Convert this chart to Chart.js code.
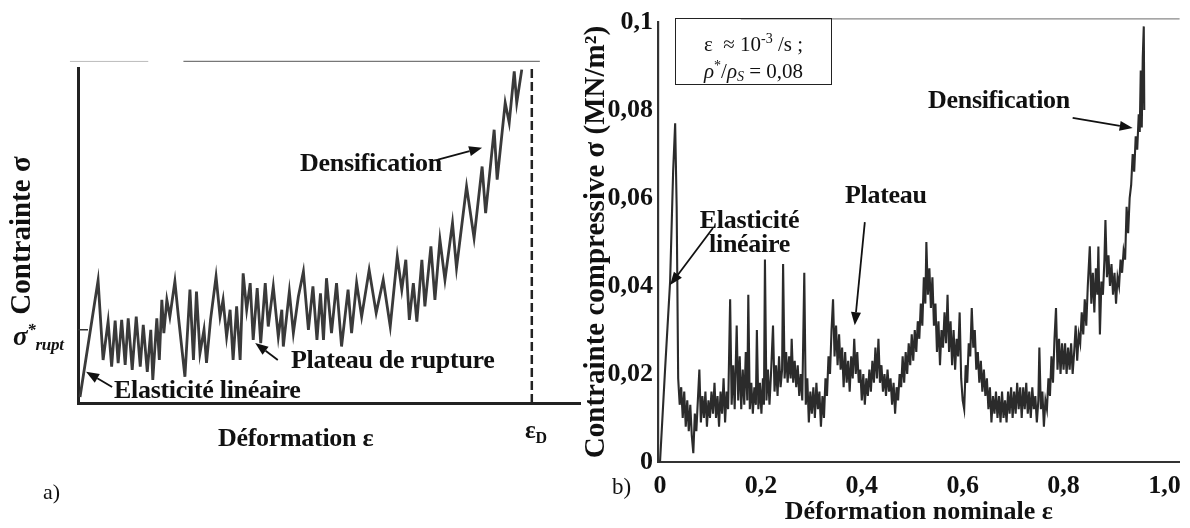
<!DOCTYPE html>
<html>
<head>
<meta charset="utf-8">
<script src="https://cdn.jsdelivr.net/npm/chart.js@4.4.0/dist/chart.umd.min.js"></script>
<style>
  html, body { margin: 0; padding: 0; background: #fff; }
  #wrap { position: relative; width: 1190px; height: 528px; overflow: hidden; font-family: "Liberation Serif", "Times New Roman", serif; color: #111; }
  .box { position: absolute; }
  .lbl { position: absolute; font-weight: bold; font-size: 26px; line-height: 24px; white-space: nowrap; letter-spacing: -0.3px; }
  .plain { position: absolute; font-size: 22px; line-height: 22px; white-space: nowrap; }
  .note { position: absolute; left: 675px; top: 18px; width: 157px; height: 67px; border: 1.5px solid #222; box-sizing: border-box; font-size: 21px; }
  .note div { position: absolute; left: 0; width: 100%; text-align: center; line-height: 22px; white-space: nowrap; }
</style>
</head>
<body>
<div id="wrap">
  <div class="box" style="left:0;top:0;width:590px;height:528px"><canvas id="chartA"></canvas></div>
  <div class="box" style="left:575px;top:0;width:615px;height:528px"><canvas id="chartB"></canvas></div>

  <!-- panel a) labels -->
  <div class="lbl" style="left:300px;top:151px">Densification</div>
  <div class="lbl" style="left:291px;top:348px">Plateau de rupture</div>
  <div class="lbl" style="left:114px;top:378px">Elasticité linéaire</div>
  <div class="lbl" style="left:218px;top:426px">Déformation ε</div>
  <div class="lbl" style="left:13px;top:318px;font-style:italic;font-size:27px">σ<sup style="font-size:17px;vertical-align:10px">*</sup><sub style="font-size:17px;vertical-align:-5px">rupt</sub></div>
  <div class="lbl" style="left:525px;top:418px;font-size:25px">ε<sub style="font-size:16px;vertical-align:-5px">D</sub></div>
  <div class="plain" style="left:43px;top:481px">a)</div>

  <!-- panel b) labels -->
  <div class="lbl" style="left:928px;top:88px">Densification</div>
  <div class="lbl" style="left:845px;top:183px">Plateau</div>
  <div class="lbl" style="left:692px;top:208px;text-align:center;width:115px">Elasticité<br>linéaire</div>
  <div class="note">
    <div style="top:9px">ε &nbsp;≈ 10<sup style="font-size:14px;vertical-align:8px">-3</sup> /s ;</div>
    <div style="top:36px"><i>ρ</i><sup style="font-size:14px;vertical-align:8px">*</sup>/<i>ρ<sub style="font-size:14px;vertical-align:-3px">S</sub></i> = 0,08</div>
  </div>
  <div class="plain" style="left:612px;top:476px;font-size:23px">b)</div>
</div>

<script>
// ---- panel a) : schematic curve (normalised units) ----
const epsA = [0.004, 0.040, 0.050, 0.060, 0.067, 0.074, 0.080, 0.087, 0.094, 0.100,
  0.108, 0.116, 0.124, 0.130, 0.138, 0.145, 0.149, 0.157, 0.162, 0.167,
  0.171, 0.177, 0.183, 0.193, 0.200, 0.213, 0.223, 0.230, 0.236, 0.243,
  0.251, 0.256, 0.264, 0.275, 0.283, 0.289, 0.296, 0.303, 0.309, 0.316,
  0.323, 0.329, 0.336, 0.343, 0.349, 0.357, 0.364, 0.373, 0.379, 0.389,
  0.399, 0.406, 0.409, 0.421, 0.429, 0.439, 0.449, 0.459, 0.468, 0.476,
  0.483, 0.489, 0.495, 0.505, 0.515, 0.525, 0.538, 0.545, 0.555, 0.565,
  0.580, 0.594, 0.608, 0.622, 0.636, 0.645, 0.653, 0.660, 0.668, 0.675,
  0.685, 0.691, 0.703, 0.711, 0.721, 0.731, 0.746, 0.754, 0.774, 0.789,
  0.805, 0.812, 0.829, 0.835, 0.851, 0.859, 0.869, 0.874, 0.884];
const sigA = [0.018, 0.373, 0.131, 0.248, 0.111, 0.251, 0.121, 0.253, 0.116, 0.258,
  0.101, 0.263, 0.111, 0.238, 0.095, 0.223, 0.070, 0.258, 0.131, 0.314,
  0.213, 0.314, 0.263, 0.370, 0.263, 0.080, 0.345, 0.131, 0.339, 0.152,
  0.223, 0.122, 0.253, 0.385, 0.263, 0.314, 0.202, 0.284, 0.131, 0.294,
  0.131, 0.395, 0.284, 0.365, 0.192, 0.350, 0.182, 0.365, 0.233, 0.355,
  0.202, 0.284, 0.172, 0.339, 0.213, 0.324, 0.400, 0.223, 0.355, 0.192,
  0.334, 0.192, 0.380, 0.213, 0.365, 0.172, 0.345, 0.213, 0.366, 0.263,
  0.405, 0.274, 0.375, 0.233, 0.446, 0.345, 0.436, 0.253, 0.365, 0.248,
  0.436, 0.294, 0.477, 0.314, 0.497, 0.375, 0.548, 0.411, 0.659, 0.502,
  0.720, 0.578, 0.832, 0.680, 0.914, 0.853, 1.010, 0.914, 1.015];
const epsD = 0.904;      // densification strain (dashed line)
const sigRupt = 0.223;   // plateau stress tick

// ---- panel b) : measured curve ----
const epsB = [
  0.000, 0.010, 0.020, 0.026, 0.030, 0.033, 0.036, 0.039, 0.042, 0.045,
  0.048, 0.051, 0.054, 0.057, 0.060, 0.063, 0.066, 0.069, 0.072, 0.075,
  0.078, 0.081, 0.084, 0.087, 0.090, 0.093, 0.096, 0.099, 0.102, 0.105,
  0.108, 0.111, 0.114, 0.117, 0.120, 0.123, 0.126, 0.129, 0.132, 0.135,
  0.139, 0.142, 0.145, 0.148, 0.152, 0.155, 0.158, 0.161, 0.164, 0.167,
  0.170, 0.173, 0.175, 0.178, 0.181, 0.184, 0.187, 0.190, 0.192, 0.195,
  0.198, 0.201, 0.204, 0.206, 0.208, 0.211, 0.214, 0.217, 0.220, 0.224,
  0.227, 0.230, 0.233, 0.236, 0.239, 0.242, 0.244, 0.247, 0.250, 0.253,
  0.256, 0.259, 0.261, 0.264, 0.267, 0.270, 0.273, 0.276, 0.279, 0.282,
  0.286, 0.289, 0.292, 0.295, 0.298, 0.301, 0.304, 0.307, 0.310, 0.313,
  0.316, 0.319, 0.322, 0.325, 0.328, 0.331, 0.334, 0.337, 0.340, 0.343,
  0.346, 0.349, 0.352, 0.355, 0.358, 0.361, 0.364, 0.367, 0.370, 0.373,
  0.376, 0.379, 0.382, 0.385, 0.388, 0.391, 0.394, 0.397, 0.400, 0.403,
  0.406, 0.409, 0.412, 0.415, 0.418, 0.421, 0.424, 0.427, 0.430, 0.433,
  0.436, 0.439, 0.442, 0.445, 0.448, 0.451, 0.454, 0.457, 0.460, 0.463,
  0.466, 0.469, 0.472, 0.475, 0.478, 0.481, 0.484, 0.487, 0.490, 0.493,
  0.496, 0.499, 0.502, 0.505, 0.508, 0.511, 0.514, 0.517, 0.520, 0.523,
  0.526, 0.528, 0.531, 0.534, 0.537, 0.540, 0.543, 0.546, 0.549, 0.552,
  0.555, 0.558, 0.561, 0.564, 0.567, 0.570, 0.573, 0.576, 0.579, 0.582,
  0.585, 0.588, 0.591, 0.594, 0.597, 0.600, 0.603, 0.606, 0.609, 0.612,
  0.615, 0.618, 0.621, 0.624, 0.627, 0.630, 0.633, 0.636, 0.639, 0.642,
  0.645, 0.648, 0.651, 0.654, 0.657, 0.660, 0.663, 0.666, 0.669, 0.672,
  0.675, 0.678, 0.681, 0.684, 0.687, 0.690, 0.693, 0.696, 0.699, 0.702,
  0.705, 0.708, 0.711, 0.714, 0.717, 0.720, 0.723, 0.726, 0.729, 0.732,
  0.735, 0.738, 0.741, 0.744, 0.747, 0.750, 0.752, 0.755, 0.758, 0.761,
  0.764, 0.767, 0.770, 0.773, 0.776, 0.779, 0.782, 0.785, 0.788, 0.791,
  0.794, 0.797, 0.800, 0.803, 0.806, 0.809, 0.812, 0.815, 0.818, 0.821,
  0.824, 0.827, 0.830, 0.833, 0.836, 0.839, 0.842, 0.845, 0.848, 0.852,
  0.855, 0.858, 0.861, 0.864, 0.867, 0.869, 0.872, 0.875, 0.878, 0.881,
  0.883, 0.886, 0.889, 0.892, 0.895, 0.898, 0.901, 0.904, 0.907, 0.910,
  0.913, 0.916, 0.919, 0.922, 0.925, 0.928, 0.931, 0.934, 0.937, 0.940,
  0.943, 0.946, 0.949, 0.951, 0.953, 0.955, 0.957, 0.959, 0.960];
const sigB = [
  0.000, 0.021, 0.041, 0.066, 0.077, 0.058, 0.019, 0.013, 0.017, 0.010,
  0.016, 0.008, 0.014, 0.007, 0.013, 0.006, 0.002, 0.011, 0.007, 0.014,
  0.021, 0.009, 0.015, 0.010, 0.016, 0.008, 0.014, 0.010, 0.016, 0.011,
  0.018, 0.010, 0.015, 0.008, 0.016, 0.011, 0.019, 0.009, 0.016, 0.012,
  0.037, 0.013, 0.022, 0.012, 0.031, 0.014, 0.024, 0.012, 0.021, 0.013,
  0.025, 0.014, 0.038, 0.012, 0.018, 0.011, 0.017, 0.013, 0.030, 0.012,
  0.018, 0.011, 0.019, 0.013, 0.046, 0.014, 0.021, 0.013, 0.020, 0.031,
  0.016, 0.022, 0.015, 0.024, 0.017, 0.021, 0.045, 0.019, 0.025, 0.018,
  0.024, 0.019, 0.028, 0.018, 0.023, 0.017, 0.022, 0.015, 0.020, 0.014,
  0.043, 0.013, 0.019, 0.009, 0.016, 0.011, 0.017, 0.010, 0.018, 0.012,
  0.016, 0.008, 0.015, 0.010, 0.019, 0.015, 0.024, 0.020, 0.030, 0.037,
  0.024, 0.031, 0.022, 0.029, 0.021, 0.026, 0.017, 0.025, 0.018, 0.023,
  0.016, 0.024, 0.019, 0.028, 0.020, 0.025, 0.018, 0.021, 0.014, 0.020,
  0.013, 0.019, 0.015, 0.021, 0.016, 0.023, 0.018, 0.026, 0.019, 0.028,
  0.018, 0.022, 0.016, 0.020, 0.015, 0.021, 0.016, 0.019, 0.013, 0.018,
  0.011, 0.017, 0.014, 0.020, 0.017, 0.024, 0.018, 0.025, 0.020, 0.027,
  0.022, 0.029, 0.023, 0.030, 0.025, 0.032, 0.028, 0.036, 0.031, 0.042,
  0.036, 0.050, 0.038, 0.044, 0.035, 0.042, 0.031, 0.036, 0.025, 0.032,
  0.022, 0.030, 0.026, 0.034, 0.027, 0.038, 0.025, 0.032, 0.022, 0.030,
  0.021, 0.028, 0.024, 0.034, 0.019, 0.014, 0.012, 0.022, 0.018, 0.027,
  0.024, 0.035, 0.026, 0.030, 0.021, 0.025, 0.018, 0.023, 0.016, 0.021,
  0.015, 0.019, 0.012, 0.017, 0.009, 0.015, 0.011, 0.016, 0.010, 0.015,
  0.009, 0.016, 0.010, 0.014, 0.009, 0.016, 0.011, 0.017, 0.010, 0.016,
  0.011, 0.018, 0.012, 0.017, 0.010, 0.017, 0.012, 0.018, 0.011, 0.016,
  0.010, 0.017, 0.012, 0.015, 0.009, 0.014, 0.026, 0.012, 0.016, 0.008,
  0.014, 0.012, 0.019, 0.015, 0.024, 0.018, 0.028, 0.035, 0.021, 0.028,
  0.020, 0.027, 0.021, 0.027, 0.020, 0.026, 0.021, 0.027, 0.020, 0.025,
  0.031, 0.023, 0.029, 0.027, 0.034, 0.029, 0.037, 0.031, 0.040, 0.049,
  0.036, 0.043, 0.034, 0.044, 0.038, 0.049, 0.029, 0.041, 0.038, 0.046,
  0.055, 0.042, 0.047, 0.040, 0.045, 0.038, 0.043, 0.036, 0.042, 0.040,
  0.046, 0.043, 0.048, 0.046, 0.058, 0.052, 0.060, 0.063, 0.070, 0.066,
  0.074, 0.071, 0.079, 0.075, 0.089, 0.076, 0.092, 0.099, 0.080];

const yTicksB = [0, 0.02, 0.04, 0.06, 0.08, 0.1];
const yTickLabelsB = ['0', '0,02', '0,04', '0,06', '0,08', '0,1'];
const xTicksB = [0, 0.2, 0.4, 0.6, 0.8, 1.0];
const xTickLabelsB = ['0', '0,2', '0,4', '0,6', '0,8', '1,0'];

Chart.defaults.font.family = '"Liberation Serif", "Times New Roman", serif';
Chart.defaults.color = '#111';

const toPoints = (xs, ys) => xs.map((x, i) => ({ x: x, y: ys[i] }));

// Arrows, scan frame lines and the small stress tick
const extras = {
    id: 'extras',
    afterDatasetsDraw(chart, args, opts) {
        const { ctx, scales: { x, y } } = chart;
        ctx.save();
        (opts.frame || []).forEach(f => {
            ctx.strokeStyle = f.color;
            ctx.lineWidth = f.width;
            ctx.beginPath();
            ctx.moveTo(x.getPixelForValue(f.x0), y.getPixelForValue(f.y));
            ctx.lineTo(x.getPixelForValue(f.x1), y.getPixelForValue(f.y));
            ctx.stroke();
        });
        if (opts.tickAt !== undefined) {
            const py = y.getPixelForValue(opts.tickAt);
            ctx.strokeStyle = '#333';
            ctx.lineWidth = 1.5;
            ctx.beginPath();
            ctx.moveTo(x.left, py);
            ctx.lineTo(x.left + 10, py);
            ctx.stroke();
        }
        (opts.arrows || []).forEach(a => {
            const x0 = x.getPixelForValue(a.from[0]), y0 = y.getPixelForValue(a.from[1]);
            const x1 = x.getPixelForValue(a.to[0]), y1 = y.getPixelForValue(a.to[1]);
            const ang = Math.atan2(y1 - y0, x1 - x0);
            const hl = 13, hw = 5;
            ctx.strokeStyle = '#111';
            ctx.fillStyle = '#111';
            ctx.lineWidth = 1.8;
            ctx.beginPath();
            ctx.moveTo(x0, y0);
            ctx.lineTo(x1 - hl * Math.cos(ang), y1 - hl * Math.sin(ang));
            ctx.stroke();
            ctx.beginPath();
            ctx.moveTo(x1, y1);
            ctx.lineTo(x1 - hl * Math.cos(ang) + hw * Math.sin(ang), y1 - hl * Math.sin(ang) - hw * Math.cos(ang));
            ctx.lineTo(x1 - hl * Math.cos(ang) - hw * Math.sin(ang), y1 - hl * Math.sin(ang) + hw * Math.cos(ang));
            ctx.closePath();
            ctx.fill();
        });
        ctx.restore();
    }
};

const yTitleFont = { size: 29, weight: 'bold' };
const xTitleFont = { size: 26, weight: 'bold' };
const tickFont = { size: 26, weight: 'bold' };

// Panel a)
new Chart(document.getElementById('chartA'), {
    type: 'scatter',
    data: {
        datasets: [
            {
                data: toPoints(epsA, sigA),
                showLine: true,
                borderColor: '#3a3a3a',
                borderWidth: 2.8,
                pointRadius: 0,
                tension: 0
            },
            {
                data: [{ x: epsD, y: 0 }, { x: epsD, y: 1.02 }],
                showLine: true,
                borderColor: '#222',
                borderWidth: 2.5,
                borderDash: [9, 4],
                pointRadius: 0
            }
        ]
    },
    options: {
        responsive: true,
        maintainAspectRatio: false,
        animation: false,
        layout: { padding: { top: 68, right: 10, left: 0, bottom: 0 } },
        plugins: {
            legend: { display: false },
            tooltip: { enabled: false },
            extras: {
                tickAt: sigRupt,
                frame: [
                    { x0: -0.016, x1: 0.14, y: 1.04, color: '#bbb', width: 1 },
                    { x0: 0.21, x1: 0.92, y: 1.04, color: '#777', width: 1.3 }
                ],
                arrows: [
                    { from: [0.717, 0.741], to: [0.805, 0.777] },
                    { from: [0.398, 0.131], to: [0.353, 0.183] },
                    { from: [0.068, 0.049], to: [0.016, 0.095] }
                ]
            }
        },
        scales: {
            x: {
                type: 'linear', min: 0, max: 1,
                ticks: { display: false },
                grid: { display: false },
                border: { display: true, color: '#222', width: 3 },
                afterFit: s => { s.height = 125; }
            },
            y: {
                min: 0, max: 1.02,
                ticks: { display: false },
                grid: { display: false },
                border: { display: true, color: '#222', width: 3 },
                title: { display: true, text: 'Contrainte σ', font: yTitleFont, padding: { top: 5, bottom: 0 } },
                afterFit: s => { s.width = 78; }
            }
        }
    },
    plugins: [extras]
});

// Panel b)
new Chart(document.getElementById('chartB'), {
    type: 'scatter',
    data: {
        datasets: [{
            data: toPoints(epsB, sigB),
            showLine: true,
            borderColor: '#2b2b2b',
            borderWidth: 2.1,
            pointRadius: 0,
            tension: 0
        }]
    },
    options: {
        responsive: true,
        maintainAspectRatio: false,
        animation: false,
        layout: { padding: { top: 22, right: 10, left: 0, bottom: 0 } },
        plugins: {
            legend: { display: false },
            tooltip: { enabled: false },
            extras: {
                frame: [
                    { x0: 0.16, x1: 1.03, y: 0.1007, color: '#888', width: 1.2 }
                ],
                arrows: [
                    { from: [0.818, 0.0782], to: [0.937, 0.0759] },
                    { from: [0.406, 0.0545], to: [0.386, 0.0311] },
                    { from: [0.105, 0.0532], to: [0.020, 0.0402] }
                ]
            }
        },
        scales: {
            x: {
                type: 'linear', min: -0.004, max: 1.03,
                afterBuildTicks: s => { s.ticks = xTicksB.map(v => ({ value: v })); },
                ticks: { font: tickFont, padding: 9, autoSkip: false, maxRotation: 0,
                         callback: (v, i) => xTickLabelsB[i] },
                grid: { display: false, drawTicks: false },
                border: { display: true, color: '#333', width: 2 },
                title: { display: true, text: 'Déformation nominale ε', font: xTitleFont, padding: { top: 0, bottom: 0 } },
                afterFit: s => { s.height = 66; }
            },
            y: {
                min: 0, max: 0.1,
                afterBuildTicks: s => { s.ticks = yTicksB.map(v => ({ value: v })); },
                ticks: { font: tickFont, padding: 5, autoSkip: false,
                         callback: (v, i) => yTickLabelsB[i] },
                grid: { display: false, drawTicks: false },
                border: { display: true, color: '#333', width: 2.2 },
                title: { display: true, text: 'Contrainte compressive σ (MN/m²)', font: yTitleFont, padding: { top: 4, bottom: 0 } },
                afterFit: s => { s.width = 83; }
            }
        }
    },
    plugins: [extras]
});
</script>
</body>
</html>
